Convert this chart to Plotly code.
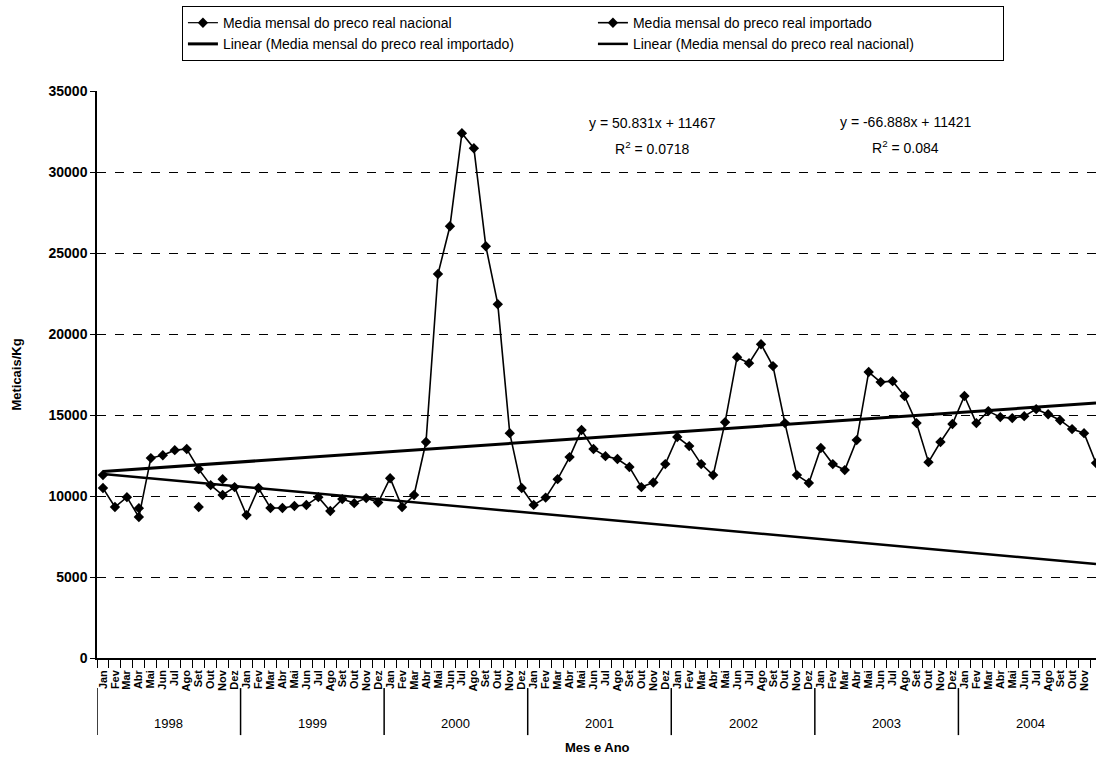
import plotly.graph_objects as go

years = ["1998", "1999", "2000", "2001", "2002", "2003", "2004"]
months = ["Jan", "Fev", "Mar", "Abr", "Mai", "Jun", "Jul", "Ago", "Set", "Out", "Nov", "Dez"]

importado = [
    10490, 9320, 9930, 8700, 12340, 12520, 12830, 12900, 11660, 10670, 10060, 10550,
    8820, 10490, 9260, 9260, 9380, 9440, 9930, 9070, 9810, 9560, 9870, 9600,
    11100, 9320, 10060, 13330, 23700, 26650, 32390, 31470, 25420, 21840, 13880, 10490,
    9450, 9900, 11040, 12400, 14070, 12900, 12460, 12280, 11790, 10550, 10830, 11970,
    13640, 13080, 11970, 11290, 14560, 18570, 18200, 19370, 18020, 14500, 11290, 10800,
    12960, 11970, 11600, 13450, 17650, 17030, 17090, 16170, 14500, 12090, 13330, 14440,
    16170, 14500, 15240, 14870, 14810, 14930, 15360, 15050, 14680, 14130, 13880, 12030,
]

nacional = [11300, None, None, 9250, None, None, None, None, 9320, None, 11040, None] + [None] * 72

trend_importado = (50.831, 11467)
trend_nacional = (-66.888, 11421)

n = len(importado)
xs = list(range(n))
month_labels = [m for _ in years for m in months]
tr_imp = [trend_importado[0] * (i + 1) + trend_importado[1] for i in xs]
tr_nac = [trend_nacional[0] * (i + 1) + trend_nacional[1] for i in xs]

FONT = "Liberation Sans, Arial, sans-serif"
mk = dict(symbol="diamond", size=8, color="black")

fig = go.Figure()
fig.add_trace(go.Scatter(x=xs, y=nacional, mode="lines+markers", name="Media mensal do preco real nacional",
                         line=dict(color="black", width=1.2), marker=mk, connectgaps=False))
fig.add_trace(go.Scatter(x=xs, y=importado, mode="lines+markers", name="Media mensal do preco real importado",
                         line=dict(color="black", width=1.6), marker=mk))
fig.add_trace(go.Scatter(x=xs, y=tr_imp, mode="lines", name="Linear (Media mensal do preco real importado)",
                         line=dict(color="black", width=3)))
fig.add_trace(go.Scatter(x=xs, y=tr_nac, mode="lines", name="Linear (Media mensal do preco real nacional)",
                         line=dict(color="black", width=2.5)))

# year group labels and dividers below the month labels
annotations = []
shapes = []
nm = len(months)
for k, yr in enumerate(years):
    annotations.append(dict(xref="x", yref="paper", x=k * nm + (nm - 1) / 2, y=-0.115, text=yr,
                            showarrow=False, font=dict(size=13, family=FONT), xanchor="center", yanchor="middle"))
    shapes.append(dict(type="line", xref="x", yref="paper", x0=k * nm - 0.5, x1=k * nm - 0.5,
                       y0=-0.053, y1=-0.136, line=dict(color="black", width=1.5)))

annotations += [
    dict(xref="paper", yref="paper", x=0.5556, y=(658 - 123) / 567, text="y = 50.831x + 11467",
         showarrow=False, font=dict(size=14, family=FONT), xanchor="center", yanchor="middle"),
    dict(xref="paper", yref="paper", x=0.5556, y=(658 - 148) / 567, text="R<sup>2</sup> = 0.0718",
         showarrow=False, font=dict(size=14, family=FONT), xanchor="center", yanchor="middle"),
    dict(xref="paper", yref="paper", x=(905 - 97) / 999, y=(658 - 122) / 567, text="y = -66.888x + 11421",
         showarrow=False, font=dict(size=14, family=FONT), xanchor="center", yanchor="middle"),
    dict(xref="paper", yref="paper", x=(905 - 97) / 999, y=(658 - 147) / 567, text="R<sup>2</sup> = 0.084",
         showarrow=False, font=dict(size=14, family=FONT), xanchor="center", yanchor="middle"),
    dict(xref="paper", yref="paper", x=(597 - 97) / 999, y=(658 - 748) / 567, text="<b>Mes e Ano</b>",
         showarrow=False, font=dict(size=13, family=FONT), xanchor="center", yanchor="middle"),
]

fig.update_layout(
    width=1096, height=760,
    margin=dict(l=97, r=0, t=91, b=102),
    paper_bgcolor="white", plot_bgcolor="white",
    font=dict(family=FONT, color="black"),
    showlegend=True,
    legend=dict(orientation="h", xref="container", yref="container", x=0.541, xanchor="center",
                y=0.992, yanchor="top", bordercolor="black", borderwidth=1, bgcolor="white",
                entrywidth=365, entrywidthmode="pixels", font=dict(size=14, family=FONT),
                tracegroupgap=0, itemwidth=30),
    annotations=annotations,
    shapes=shapes,
)
fig.update_xaxes(
    range=[-0.5, 83.0],
    tickmode="array", tickvals=xs, ticktext=month_labels,
    showline=True, linecolor="black", linewidth=1.5,
    ticks="outside", ticklen=6, tickcolor="rgba(0,0,0,0)", tickangle=-90,
    tickfont=dict(size=11, family=FONT, weight="bold"),
    minor=dict(tickmode="linear", tick0=-0.5, dtick=1, ticks="outside", ticklen=8, tickcolor="black", showgrid=False),
    showgrid=False, zeroline=False,
)
fig.update_yaxes(
    range=[0, 35000], dtick=5000, tickformat="d",
    showline=True, linecolor="black", linewidth=1.5,
    ticks="outside", ticklen=5, tickcolor="black",
    tickfont=dict(size=14, family=FONT, weight="bold"),
    showgrid=True, gridcolor="black", gridwidth=1, griddash="dash",
    zeroline=False,
    title=dict(text="Meticais/Kg", font=dict(size=13, family=FONT, weight="bold"), standoff=24),
)

fig.write_html("out.html")
